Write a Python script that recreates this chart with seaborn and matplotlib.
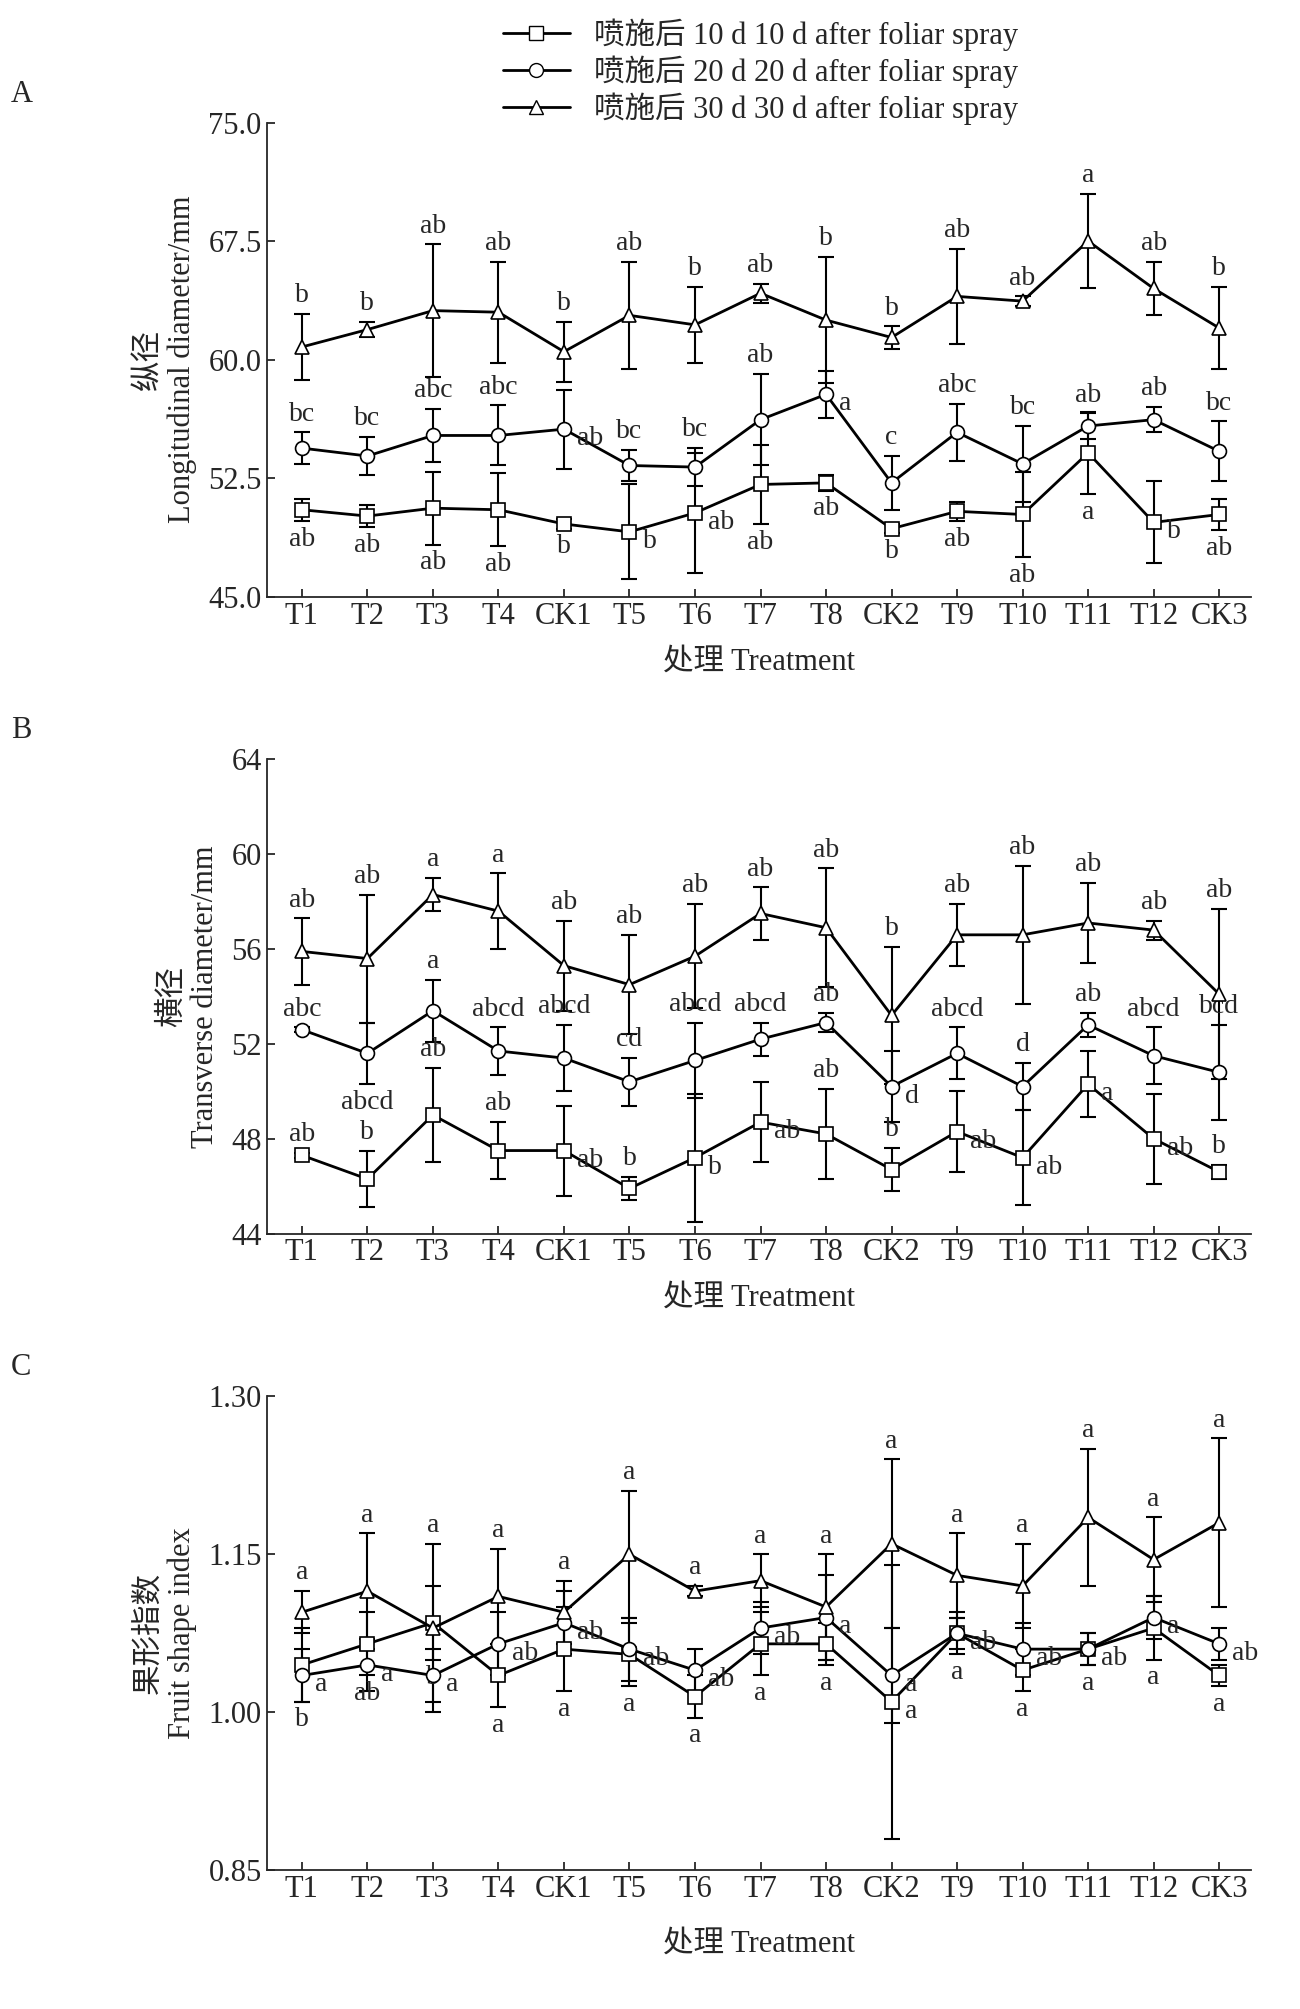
import matplotlib
matplotlib.use("Agg")
import matplotlib.pyplot as plt
import seaborn as sns
import pandas as pd
import numpy as np

sns.set_style("ticks")
plt.rcParams['font.family'] = ['Liberation Serif', 'Noto Sans CJK SC']
plt.rcParams['xtick.direction'] = 'in'
plt.rcParams['ytick.direction'] = 'in'

cats = ["T1","T2","T3","T4","CK1","T5","T6","T7","T8","CK2","T9","T10","T11","T12","CK3"]
series = ["喷施后 10 d 10 d after foliar spray", "喷施后 20 d 20 d after foliar spray", "喷施后 30 d 30 d after foliar spray"]
markers = ["s", "o", "^"]

a10 = [50.5,50.1,50.6,50.5,49.6,49.1,50.3,52.1,52.2,49.3,50.4,50.2,54.1,49.7,50.2]
a10e = [0.7,0.7,2.3,2.3,0.3,3.0,3.8,2.5,0.5,0.3,0.6,2.7,2.6,2.6,1.0]
a10l = ["ab","ab","ab","ab","b","b","ab","ab","ab","b","ab","ab","a","b","ab"]
a20 = [54.4,53.9,55.2,55.2,55.6,53.3,53.2,56.2,57.8,52.2,55.4,53.4,55.8,56.2,54.2]
a20e = [1.0,1.2,1.7,1.9,2.5,1.0,1.2,2.9,1.5,1.7,1.8,2.4,0.8,0.8,1.9]
a20l = ["bc","bc","abc","abc","ab","bc","bc","ab","a","c","abc","bc","ab","ab","bc"]
a30 = [60.8,61.9,63.1,63.0,60.5,62.8,62.2,64.2,62.5,61.4,64.0,63.7,67.5,64.5,62.0]
a30e = [2.1,0.5,4.2,3.2,1.9,3.4,2.4,0.6,4.0,0.7,3.0,0.3,3.0,1.7,2.6]
a30l = ["b","b","ab","ab","b","ab","b","ab","b","b","ab","ab","a","ab","b"]

b10 = [47.3,46.3,49.0,47.5,47.5,45.9,47.2,48.7,48.2,46.7,48.3,47.2,50.3,48.0,46.6]
b10e = [0.1,1.2,2.0,1.2,1.9,0.5,2.7,1.7,1.9,0.9,1.7,2.0,1.4,1.9,0.3]
b10l = ["ab","b","ab","ab","ab","b","b","ab","ab","b","ab","ab","a","ab","b"]
b20 = [52.6,51.6,53.4,51.7,51.4,50.4,51.3,52.2,52.9,50.2,51.6,50.2,52.8,51.5,50.8]
b20e = [0.1,1.3,1.3,1.0,1.4,1.0,1.6,0.7,0.4,1.5,1.1,1.0,0.5,1.2,2.0]
b20l = ["abc","abcd","a","abcd","abcd","cd","abcd","abcd","ab","d","abcd","d","ab","abcd","bcd"]
b30 = [55.9,55.6,58.3,57.6,55.3,54.5,55.7,57.5,56.9,53.2,56.6,56.6,57.1,56.8,54.1]
b30e = [1.4,2.7,0.7,1.6,1.9,2.1,2.2,1.1,2.5,2.9,1.3,2.9,1.7,0.4,3.6]
b30l = ["ab","ab","a","a","ab","ab","ab","ab","ab","b","ab","ab","ab","ab","ab"]

c10 = [1.045,1.065,1.085,1.035,1.06,1.055,1.015,1.065,1.065,1.01,1.075,1.04,1.06,1.08,1.035]
c10e = [0.035,0.03,0.035,0.03,0.04,0.03,0.02,0.03,0.02,0.13,0.02,0.02,0.015,0.03,0.01]
c10l = ["b","ab","b","a","a","a","a","a","a","a","a","a","a","a","a"]
c20 = [1.035,1.045,1.035,1.065,1.085,1.06,1.04,1.08,1.09,1.035,1.075,1.06,1.06,1.09,1.065]
c20e = [0.025,0.025,0.025,0.03,0.03,0.03,0.02,0.025,0.04,0.045,0.015,0.025,0.015,0.02,0.015]
c20l = ["a","a","a","ab","ab","ab","ab","ab","a","a","ab","ab","ab","a","ab"]
c30 = [1.095,1.115,1.08,1.11,1.095,1.15,1.115,1.125,1.1,1.16,1.13,1.12,1.185,1.145,1.18]
c30e = [0.02,0.055,0.08,0.045,0.03,0.06,0.005,0.025,0.05,0.08,0.04,0.04,0.065,0.04,0.08]
c30l = ["a"]*15

# label placement codes: u above, d below, r right (layout only)
pa10 = "ddddddrdddddddd"; pa10 = "ddddrrrdddddrrd"[:0] or "dddddrrddddddrd"
pa20 = "uuuuruuuruuuuuu"
pa30 = "u"*15
pb10 = "uuuururruurrrru"
pb20 = "udduuuuuuruuuuu"
pb20 = "uduuuuuuuruuuuu"
pb30 = "u"*15
pc10 = "dddddddddrddddd"
pc20 = "r"*15
pc30 = "u"*15

fig = plt.figure(figsize=(13, 20.09), dpi=100)
rects = [[0.205,0.703,0.757,0.236],[0.205,0.386,0.757,0.236],[0.205,0.069,0.757,0.236]]
panels = [
    ("A", "纵径\nLongitudinal diameter/mm", (45, 75), [45.0,52.5,60.0,67.5,75.0], "%.1f",
     [(a10,a10e,a10l,pa10),(a20,a20e,a20l,pa20),(a30,a30e,a30l,pa30)]),
    ("B", "横径\nTransverse diameter/mm", (44, 64), [44,48,52,56,60,64], "%d",
     [(b10,b10e,b10l,pb10),(b20,b20e,b20l,pb20),(b30,b30e,b30l,pb30)]),
    ("C", "果形指数\nFruit shape index", (0.85, 1.30), [0.85,1.00,1.15,1.30], "%.2f",
     [(c10,c10e,c10l,pc10),(c20,c20e,c20l,pc20),(c30,c30e,c30l,pc30)]),
]
x = np.arange(len(cats))
fs = 20
for i, (lab, ylab, ylim, yt, fmt, data) in enumerate(panels):
    ax = fig.add_axes(rects[i])
    span = ylim[1] - ylim[0]
    for j, (v, e, l, pos) in enumerate(data):
        df = pd.DataFrame({"x": x, "y": v})
        sns.lineplot(data=df, x="x", y="y", ax=ax, color="black", lw=2, marker=markers[j],
                     markersize=10, markerfacecolor="white", markeredgecolor="black",
                     markeredgewidth=1.2, zorder=3)
        ax.errorbar(x, v, yerr=e, fmt="none", ecolor="black", elinewidth=1.5, capsize=6, capthick=1.5, zorder=2)
        for k in range(len(cats)):
            p = pos[k]
            if p == "u":
                ax.text(x[k], v[k] + e[k] + 0.012*span, l[k], ha="center", va="bottom", fontsize=fs)
            elif p == "d":
                ax.text(x[k], v[k] - e[k] - 0.012*span, l[k], ha="center", va="top", fontsize=fs)
            else:
                ax.text(x[k] + 0.2, v[k] - 0.02*span, l[k], ha="left", va="center", fontsize=fs)
    ax.set_xlim(-0.54, 14.48)
    ax.set_ylim(*ylim)
    ax.set_yticks(yt)
    ax.set_yticklabels([fmt % t for t in yt])
    ax.set_xticks(x)
    ax.set_xticklabels(cats)
    ax.tick_params(labelsize=22, length=6, width=1.3)
    for s in ["top", "right"]:
        ax.spines[s].set_visible(False)
    for s in ["left", "bottom"]:
        ax.spines[s].set_linewidth(1.3)
    ax.set_xlabel("处理 Treatment", fontsize=22, labelpad=18 if i == 2 else 12)
    ax.set_ylabel(ylab, fontsize=22, labelpad=8)
    ax.text(-0.26, 1.06, lab, transform=ax.transAxes, fontsize=22, ha="left", va="center")
    if i == 0:
        handles = [plt.Line2D([], [], color="black", lw=2, marker=m, markersize=10,
                              markerfacecolor="white", markeredgecolor="black") for m in markers]
        fig.legend(handles, series, loc="upper center", bbox_to_anchor=(0.585, 1.0), frameon=False,
                   fontsize=22, handlelength=2.2, labelspacing=0.15, borderaxespad=0.2)

fig.savefig("out.png", dpi=100)
